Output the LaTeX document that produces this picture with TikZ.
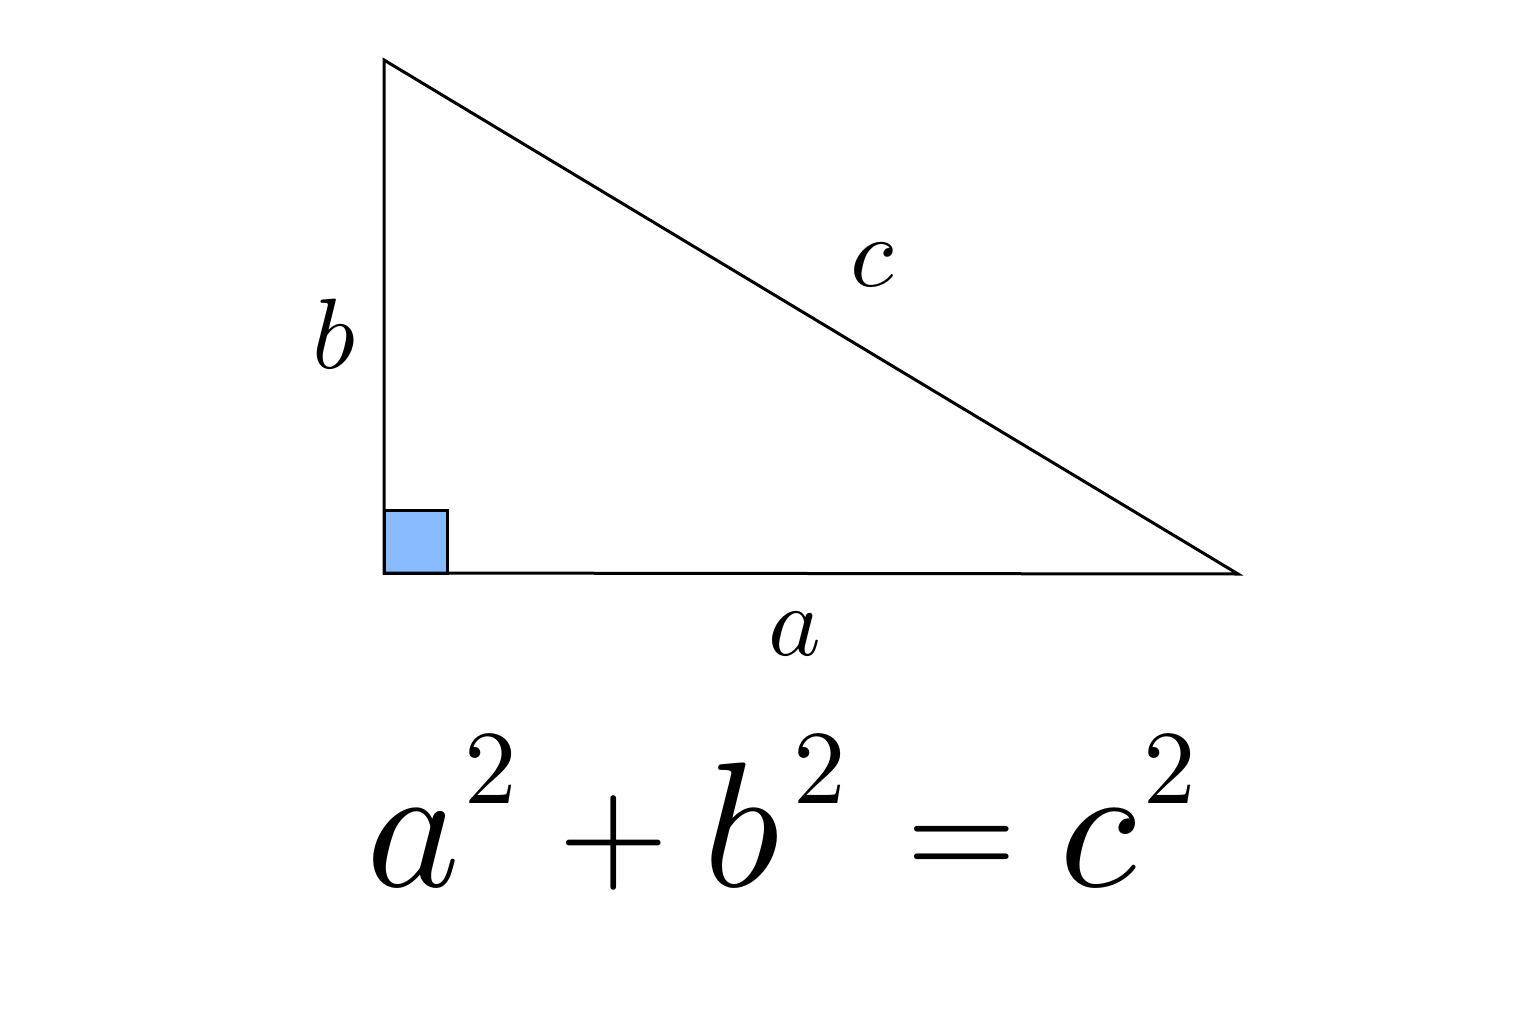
\documentclass[tikz,border=0pt]{standalone}
\usepackage{unicode-math}
\setmathfont{Latin Modern Math}
\definecolor{rablue}{HTML}{88BBFF}
\tikzset{
  edge/.style={line width=3pt, line join=miter},
  lbl/.style={inner sep=0pt, anchor=base, font=\fontsize{100}{100}\selectfont},
  big/.style={inner sep=0pt, anchor=base, font=\fontsize{178}{178}\selectfont},
  op/.style={inner sep=0pt, anchor=base, font=\fontsize{142}{142}\selectfont},
  sup/.style={inner sep=0pt, anchor=base, font=\fontsize{105}{105}\selectfont}
}
\begin{document}
\begin{tikzpicture}[x=1pt,y=-1pt]
\useasboundingbox (0,0) rectangle (1536,1024);
\coordinate (T) at (384,60);
\coordinate (R) at (384,573);
\coordinate (E) at (1238,574);
\draw[edge, fill=rablue] (R) rectangle (447,510);
\draw[edge] (T) -- (R) -- (E) -- cycle;
\node[lbl] (lb) at (335,368) {$b$};
\node[lbl] (lc) at (873,287) {$c$};
\node[lbl] (la) at (795,655) {$a$};
\node[big] (ea) at (414,886) {$a$};
\node[sup] (e2a) at (491,803) {$2$};
\node[op] (plus) at (614,878) {$+$};
\node[big] (eb) at (743,886) {$b$};
\node[sup] (e2b) at (820,803) {$2$};
\node[op] (eq) at (962,878) {$=$};
\node[big] (ec) at (1100,886) {$c$};
\node[sup] (e2c) at (1170,803) {$2$};
\end{tikzpicture}
\end{document}
